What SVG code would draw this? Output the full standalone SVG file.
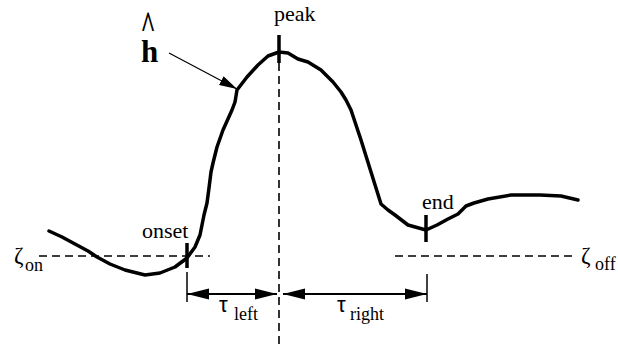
<svg xmlns="http://www.w3.org/2000/svg" width="618" height="344" viewBox="0 0 618 344">
<defs>
<marker id="dim" markerUnits="userSpaceOnUse" markerWidth="22" markerHeight="12" refX="20" refY="5" orient="auto-start-reverse" viewBox="0 0 20 10">
<path d="M0,0 L20,5 L0,10 Z" fill="#000"/>
</marker>
<marker id="ptr" markerUnits="userSpaceOnUse" markerWidth="18" markerHeight="10" refX="16" refY="4.5" orient="auto" viewBox="0 0 16 9">
<path d="M0,0 L16,4.5 L0,9 Z" fill="#000"/>
</marker>
<style>
.lbl{font-family:"Liberation Serif","Times New Roman",serif;fill:#000}
.dash{stroke:#000;stroke-width:1.6;stroke-dasharray:8 5;fill:none}
.tick{stroke:#000;stroke-width:3.5}
.ext{stroke:#000;stroke-width:1.5}
.dimline{stroke:#000;stroke-width:2;fill:none;marker-start:url(#dim);marker-end:url(#dim)}
.tau{font-family:"Liberation Sans",Arial,sans-serif;font-size:22px;fill:#000}
</style>
</defs>
<rect width="618" height="344" fill="#fff"/>
<g id="curve">
<polyline fill="none" stroke="#000" stroke-width="3.5" stroke-linejoin="round" stroke-linecap="round" points="49,231 62,237 75,244 88,251 97,257 110,264 125,270 145,275 160,273 175,267 187,258 195,247 200,235 202,225 204,215 207,203 209,188 211,172 213,163 217,147 223,130 232,110 235,102 237,90 247,77 258,65 268,56 279,52 288,53 298,59 308,62 321,70 333,82 341,92 346,100 351,110 356,125 361,140 366,156 371,172 376,188 381,204 388,210 395,215 408,225 426,230 437,225 448,219 458,214 466,206 474,203 488,199 511,195 540,195 561,196 578,200"/>
</g>
<g id="connectors">
<line class="dash" x1="279" y1="63" x2="279" y2="344"/>
<line class="dash" x1="39" y1="256" x2="210" y2="256"/>
<line class="dash" x1="395" y1="256" x2="573" y2="256"/>
<line class="ext" x1="187" y1="272" x2="187" y2="302"/>
<line class="ext" x1="427" y1="274" x2="427" y2="302"/>
<line class="dimline" x1="187" y1="294" x2="277" y2="294"/>
<line class="dimline" x1="283" y1="294" x2="427" y2="294"/>
<line stroke="#000" stroke-width="1.2" x1="169" y1="53" x2="237" y2="89" marker-end="url(#ptr)"/>
</g>
<g id="peak">
<line class="tick" x1="279" y1="35" x2="279" y2="63"/>
<text class="lbl" x="274" y="21" font-size="22">peak</text>
</g>
<g id="onset">
<line class="tick" x1="187" y1="243" x2="187" y2="268"/>
<text class="lbl" x="142" y="238" font-size="22">onset</text>
</g>
<g id="end">
<line class="tick" x1="426" y1="215" x2="426" y2="242"/>
<text class="lbl" x="422" y="209" font-size="22">end</text>
</g>
<g id="h-hat">
<text class="lbl" x="141" y="62" font-size="31" font-weight="bold">h</text>
<text class="lbl" transform="translate(148,39) scale(1,1.5)" text-anchor="middle" font-size="26" font-weight="bold">^</text>
</g>
<g id="zeta-on">
<text class="lbl" x="14" y="263" font-size="23">ζ</text>
<text class="lbl" x="25" y="271" font-size="18">on</text>
</g>
<g id="zeta-off">
<text class="lbl" x="581" y="263" font-size="23">ζ</text>
<text class="lbl" x="595" y="270" font-size="18">off</text>
</g>
<g id="tau-left">
<text class="tau" x="219" y="312">τ</text>
<text class="lbl" x="234" y="320" font-size="18">left</text>
</g>
<g id="tau-right">
<text class="tau" x="337" y="312">τ</text>
<text class="lbl" x="350" y="320" font-size="18">right</text>
</g>
</svg>
